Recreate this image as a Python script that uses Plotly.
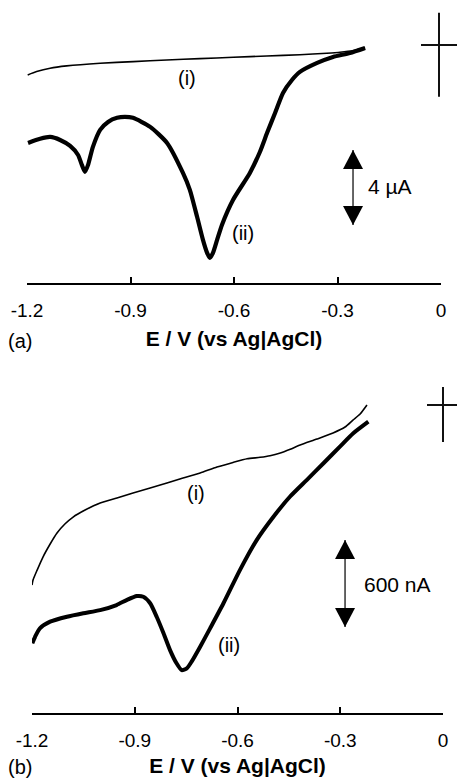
import plotly.graph_objects as go

# ---------------- Panel (a): E (V vs Ag|AgCl), I (µA) ----------------
E_a_i = [-1.198, -1.172, -1.133, -1.085, -0.988, -0.892, -0.795, -0.699, -0.602,
         -0.505, -0.409, -0.331, -0.293, -0.254, -0.220]
I_a_i = [-1.60, -1.42, -1.24, -1.12, -0.98, -0.89, -0.80, -0.73, -0.66,
         -0.59, -0.52, -0.44, -0.39, -0.30, -0.14]

E_a_ii = [-1.197, -1.162, -1.133, -1.104, -1.075, -1.052, -1.041, -1.032, -1.023,
          -1.009, -0.988, -0.965, -0.939, -0.916, -0.893, -0.843, -0.794, -0.748,
          -0.728, -0.707, -0.690, -0.678, -0.670, -0.661, -0.649, -0.635, -0.603,
          -0.554, -0.525, -0.504, -0.481, -0.458, -0.432, -0.409, -0.359, -0.313,
          -0.264, -0.220]
I_a_ii = [-5.23, -5.01, -4.91, -5.07, -5.39, -5.87, -6.40, -6.77, -6.40,
          -5.44, -4.53, -4.11, -3.89, -3.84, -3.89, -4.37, -5.23, -6.83,
          -7.73, -9.17, -10.40, -11.09, -11.36, -11.09, -10.40, -9.60, -8.27,
          -6.83, -5.71, -4.69, -3.63, -2.56, -1.87, -1.44, -0.96, -0.64,
          -0.43, -0.16]

# ---------------- Panel (b): E (V vs Ag|AgCl), I (nA) ----------------
E_b_i = [-1.200, -1.197, -1.185, -1.168, -1.147, -1.127, -1.104, -1.080, -1.045,
         -1.001, -0.952, -0.905, -0.855, -0.806, -0.759, -0.709, -0.660, -0.613,
         -0.572, -0.534, -0.505, -0.475, -0.446, -0.417, -0.368, -0.321, -0.286,
         -0.263, -0.242, -0.222]
I_b_i = [-1242, -1208, -1139, -1049, -959, -883, -821, -773, -725,
         -676, -642, -607, -573, -538, -504, -469, -428, -396,
         -371, -361, -350, -331, -305, -276, -235, -193, -152,
         -104, -62, 0]

E_b_ii = [-1.199, -1.191, -1.177, -1.147, -1.098, -1.050, -1.001, -0.953, -0.924,
          -0.894, -0.875, -0.855, -0.836, -0.816, -0.797, -0.778, -0.763, -0.748,
          -0.734, -0.709, -0.680, -0.641, -0.593, -0.544, -0.495, -0.447, -0.398,
          -0.349, -0.301, -0.262, -0.218]
I_b_ii = [-1644, -1599, -1541, -1495, -1461, -1437, -1415, -1380, -1346,
          -1318, -1323, -1368, -1461, -1575, -1691, -1782, -1829, -1817,
          -1771, -1668, -1541, -1368, -1139, -932, -771, -633, -518,
          -402, -287, -195, -115]

x_tick_vals = [-1.2, -0.9, -0.6, -0.3, 0]
x_tick_text = ["-1.2", "-0.9", "-0.6", "-0.3", "0"]
x_title = "E / V (vs Ag|AgCl)"
curve_labels = ["(i)", "(ii)"]
panel_labels = ["(a)", "(b)"]
scale_a = "4 µA"
scale_b = "600 nA"

FONT = "Liberation Sans, Arial, sans-serif"
W, H = 457, 780

fig = go.Figure()
fig.add_trace(go.Scatter(x=E_a_i, y=I_a_i, mode="lines", xaxis="x", yaxis="y",
                         line=dict(color="black", width=1.6, shape="spline", smoothing=0.6)))
fig.add_trace(go.Scatter(x=E_a_ii, y=I_a_ii, mode="lines", xaxis="x", yaxis="y",
                         line=dict(color="black", width=4.2, shape="spline", smoothing=0.6)))
fig.add_trace(go.Scatter(x=E_b_i, y=I_b_i, mode="lines", xaxis="x2", yaxis="y2",
                         line=dict(color="black", width=1.6, shape="spline", smoothing=0.6)))
fig.add_trace(go.Scatter(x=E_b_ii, y=I_b_ii, mode="lines", xaxis="x2", yaxis="y2",
                         line=dict(color="black", width=4.0, shape="spline", smoothing=0.6)))


def x_axis(domain, anchor, title_standoff):
    return dict(domain=domain, anchor=anchor, range=[-1.2, 0], showline=True, linewidth=2,
                linecolor="black", ticks="inside", ticklen=6, tickwidth=2, tickcolor="black",
                tickmode="array", tickvals=x_tick_vals, ticktext=x_tick_text,
                tickfont=dict(size=19, color="black", family=FONT),
                showgrid=False, zeroline=False, automargin=False,
                ticklabelstandoff=9,
                title=dict(text=x_title, standoff=title_standoff,
                           font=dict(size=21, color="black", family=FONT, weight="bold")))


ya_common = dict(visible=False, showgrid=False, zeroline=False, automargin=False)

xa_dom = [27 / W, 441 / W]
xb_dom = [32 / W, 443 / W]

fig.update_layout(
    width=W, height=H, margin=dict(l=0, r=0, t=0, b=0),
    template="none", paper_bgcolor="white", plot_bgcolor="white",
    showlegend=False,
    xaxis=x_axis(xa_dom, "y", 12),
    yaxis=dict(domain=[1 - 283 / H, 1 - 5 / H], range=[-12.70, 2.13], anchor="x", **ya_common),
    xaxis2=x_axis(xb_dom, "y2", 9),
    yaxis2=dict(domain=[1 - 713 / H, 1 - 385 / H], range=[-2125, 138], anchor="x2", **ya_common),
)

ann_font = dict(size=20, color="black", family=FONT)
scale_font = dict(size=21, color="black", family=FONT)
anns = [
    dict(x=-0.736, y=-1.76, xref="x", yref="y", text=curve_labels[0]),
    dict(x=-0.574, y=-10.03, xref="x", yref="y", text=curve_labels[1]),
    dict(x=-0.721, y=-607, xref="x2", yref="y2", text=curve_labels[0]),
    dict(x=-0.625, y=-1656, xref="x2", yref="y2", text=curve_labels[1]),
]
for a in anns:
    fig.add_annotation(showarrow=False, xanchor="center", yanchor="middle", font=ann_font, **a)
fig.add_annotation(x=-0.2174, y=-7.57, xref="x", yref="y", text=scale_a, showarrow=False,
                   xanchor="left", yanchor="middle", font=scale_font)
fig.add_annotation(x=-0.2365, y=-1235, xref="x2", yref="y2", text=scale_b, showarrow=False,
                   xanchor="left", yanchor="middle", font=scale_font)
fig.add_annotation(x=20 / W, y=1 - 341 / H, xref="paper", yref="paper", text=panel_labels[0],
                   showarrow=False, xanchor="center", yanchor="middle", font=ann_font)
fig.add_annotation(x=20 / W, y=1 - 767 / H, xref="paper", yref="paper", text=panel_labels[1],
                   showarrow=False, xanchor="center", yanchor="middle", font=ann_font)

# origin cross-hairs (zero current at E = 0)
cross = dict(color="#111", width=2)
fig.add_shape(type="line", xref="paper", yref="y", x0=xa_dom[1] - 2 / W, x1=xa_dom[1] - 2 / W,
              y0=1.71, y1=-2.77, line=cross)
fig.add_shape(type="line", xref="paper", yref="y", x0=421 / W, x1=1.05, y0=0, y1=0, line=cross)
fig.add_shape(type="line", xref="paper", yref="y2", x0=xb_dom[1], x1=xb_dom[1],
              y0=124, y1=-255, line=cross)
fig.add_shape(type="line", xref="paper", yref="y2", x0=427 / W, x1=1.05, y0=0, y1=0, line=cross)


def scale_bar(xr, yr, xpos, ytop, ybot):
    fig.add_shape(type="line", xref=xr, yref=yr, x0=xpos, x1=xpos, y0=ytop, y1=ybot,
                  line=dict(color="#333", width=1.5))
    fig.add_shape(type="path", xref=xr, yref=yr, xsizemode="pixel", ysizemode="pixel",
                  xanchor=xpos, yanchor=ytop, path="M0,0 L-10,-19 L10,-19 Z",
                  fillcolor="black", line=dict(width=0))
    fig.add_shape(type="path", xref=xr, yref=yr, xsizemode="pixel", ysizemode="pixel",
                  xanchor=xpos, yanchor=ybot, path="M0,0 L-10,19 L10,19 Z",
                  fillcolor="black", line=dict(width=0))


scale_bar("x", "y", -0.255, -5.6, -9.6)
scale_bar("x2", "y2", -0.286, -932, -1532)

fig.write_html("out.html")
